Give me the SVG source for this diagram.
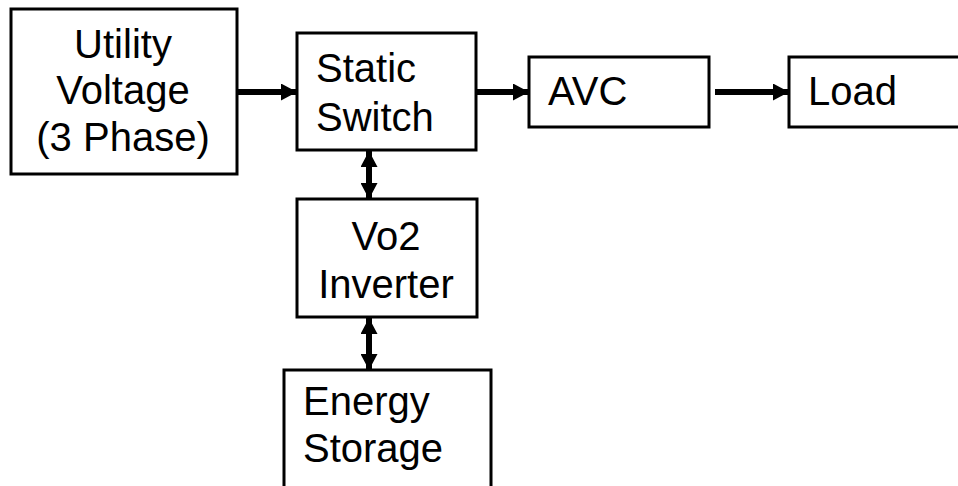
<svg xmlns="http://www.w3.org/2000/svg" width="958" height="486" viewBox="0 0 958 486">
<style>
.box{fill:#fff;stroke:#000;stroke-width:3}
.t{font-family:"Liberation Sans",Arial,sans-serif;font-size:40px;fill:#000}
.c{text-anchor:middle}
.ln{stroke:#000;stroke-width:6;fill:none}
</style>
<defs>
<marker id="ah" markerUnits="userSpaceOnUse" markerWidth="16" markerHeight="17" refX="16" refY="8.5" orient="auto-start-reverse" viewBox="0 0 16 17">
<path d="M0,0 L16,8.5 L0,17 Z" fill="#000"/>
</marker>
</defs>
<rect width="958" height="486" fill="#fff"/>
<g id="utility">
<rect class="box" x="11" y="9" width="226" height="165"/>
<text class="t c" x="123" y="58">Utility</text>
<text class="t c" x="123" y="104">Voltage</text>
<text class="t c" x="123" y="151">(3 Phase)</text>
</g>
<g id="static-switch">
<rect class="box" x="297" y="33" width="179" height="117"/>
<text class="t" x="316" y="82">Static</text>
<text class="t" x="316" y="131">Switch</text>
</g>
<g id="avc">
<rect class="box" x="529" y="57" width="180" height="70"/>
<text class="t" x="548" y="105">AVC</text>
</g>
<g id="load">
<rect class="box" x="789" y="57" width="200" height="70"/>
<text class="t" x="808" y="105">Load</text>
</g>
<g id="inverter">
<rect class="box" x="297" y="199" width="180" height="118"/>
<text class="t c" x="386" y="250">Vo2</text>
<text class="t c" x="386" y="298">Inverter</text>
</g>
<g id="energy-storage">
<rect class="box" x="284" y="370" width="207" height="130"/>
<text class="t" x="303" y="415">Energy</text>
<text class="t" x="303" y="462">Storage</text>
</g>
<g id="connectors">
<line class="ln" x1="238" y1="92" x2="297" y2="92" marker-end="url(#ah)"/>
<line class="ln" x1="477" y1="92" x2="529" y2="92" marker-end="url(#ah)"/>
<line class="ln" x1="715" y1="92" x2="789" y2="92" marker-end="url(#ah)"/>
<line class="ln" x1="369" y1="151" x2="369" y2="199" marker-start="url(#ah)" marker-end="url(#ah)"/>
<line class="ln" x1="369" y1="318" x2="369" y2="370" marker-start="url(#ah)" marker-end="url(#ah)"/>
</g>
</svg>
